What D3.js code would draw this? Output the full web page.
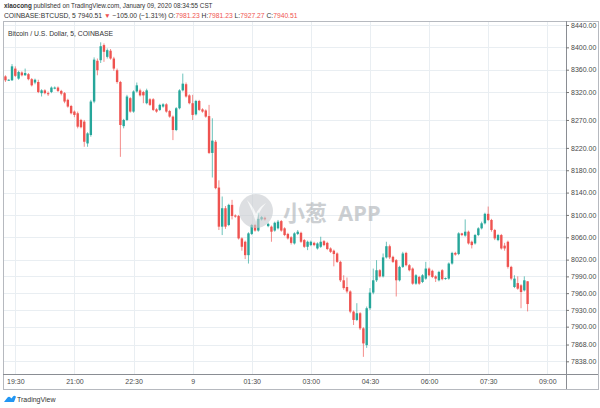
<!DOCTYPE html>
<html><head><meta charset="utf-8">
<script src="https://cdn.jsdelivr.net/npm/d3@7"></script>
<style>body{margin:0;background:#fff}svg{display:block;font-family:"Liberation Sans",Arial,sans-serif}</style>
</head><body><svg id="c" width="600" height="408"></svg>
<script>
// first bar at 19:15 -> minutes relative to 19:30, 5-minute bars
const firstBarMinute = -15;
const barMinutes = 5;
const opens = [8348,8341,8341,8362,8344,8355,8350,8352,8343,8337,8338,8318,8323,8318,8320,8326,8328,8322,8318,8306,
8295,8285,8282,8270,8267,8228,8243,8303,8376,8377,8404,8383,8394,8380,8359,8338,8259,8270,8309,8285,
8321,8323,8320,8300,8307,8307,8289,8288,8294,8298,8286,8276,8252,8291,8323,8334,8314,8300,8280,8304,
8289,8287,8277,8211,8231,8149,8079,8112,8082,8118,8099,8098,8058,8052,8028,8066,8082,8072,8092,8095,
8080,8079,8072,8076,8089,8076,8066,8060,8049,8066,8068,8055,8043,8046,8050,8040,8043,8053,8050,8040,
8036,8031,8016,7983,7971,7963,7927,7912,7924,7897,7867,7933,7961,7983,8001,7990,8024,8044,8025,8019,
7983,8007,8032,8010,8004,7977,7989,7980,7986,8004,8000,7990,7983,8001,7986,7986,8013,8032,8030,8067,
8063,8070,8052,8049,8064,8076,8085,8102,8091,8073,8055,8064,8045,8052,8007,7971,7978,7974,7965,7981.23];
const highs = [8350,8343,8370,8366,8358,8357,8362,8354,8345,8344,8342,8325,8325,8321,8330,8330,8330,8324,8320,8308,
8297,8287,8285,8272,8270,8248,8306,8382,8380,8409,8407,8398,8397,8383,8362,8340,8272,8315,8311,8323,
8337,8326,8322,8326,8309,8309,8291,8299,8300,8300,8288,8278,8293,8325,8353,8337,8316,8315,8306,8306,
8291,8289,8297,8273,8234,8162,8133,8116,8120,8127,8101,8100,8060,8054,8069,8084,8084,8104,8098,8097,
8086,8081,8088,8091,8091,8078,8068,8062,8069,8073,8070,8057,8054,8054,8052,8051,8061,8055,8052,8042,
8038,8033,8018,7992,7988,7965,7929,7942,7926,7899,7936,7969,8004,8019,8003,8031,8052,8047,8027,8021,
8009,8034,8034,8012,8006,7994,7991,7994,8016,8006,8002,7992,8000,8003,7988,8015,8034,8034,8069,8068,
8092,8072,8054,8066,8078,8088,8104,8115,8093,8075,8066,8066,8050,8054,8009,7992,7990,7976,7990,7981.23];
const lows = [8338,8340,8340,8347,8342,8348,8349,8341,8330,8334,8318,8312,8316,8313,8318,8325,8320,8314,8300,8292,
8280,8275,8255,8255,8222,8222,8240,8300,8350,8372,8374,8380,8378,8358,8335,8204,8255,8268,8283,8283,
8319,8312,8300,8298,8295,8286,8283,8286,8292,8283,8274,8234,8250,8289,8321,8310,8298,8270,8278,8286,
8283,8274,8209,8167,8146,8073,8064,8075,8080,8092,8095,8056,8036,8021,8013,8064,8070,8070,8090,8090,
8078,8052,8070,8074,8070,8062,8056,8047,8047,8064,8050,8041,8037,8044,8044,8038,8041,8044,8037,8032,
8008,8014,7980,7966,7960,7924,7903,7910,7894,7846,7862,7930,7958,7980,7988,7988,8022,8021,8014,7954,
7981,8005,8008,7999,7975,7975,7975,7978,7984,7990,7987,7980,7981,7983,7984,7984,8011,8027,8028,8062,
8061,8047,8040,8047,8062,8074,8083,8089,8070,8055,8053,8038,8036,8004,7983,7969,7966,7933,7963,7927.27];
const closes = [8341,8342,8366,8349,8356,8350,8354,8343,8332,8342,8320,8323,8318,8316,8328,8328,8322,8317,8303,8294,
8282,8279,8258,8257,8231,8246,8303,8378,8359,8402,8392,8395,8380,8362,8338,8261,8270,8312,8285,8321,
8332,8314,8314,8323,8297,8288,8285,8297,8298,8285,8276,8252,8291,8323,8335,8312,8300,8279,8304,8288,
8285,8276,8211,8233,8148,8079,8112,8079,8118,8098,8097,8058,8043,8028,8067,8082,8072,8093,8096,8092,
8084,8070,8086,8088,8072,8064,8058,8050,8067,8070,8052,8043,8052,8052,8046,8049,8052,8046,8039,8034,
8030,8016,7983,7969,7963,7927,7912,7924,7897,7870,7933,7961,7983,8001,7990,8024,8044,8024,8016,7983,
8007,8031,8010,8001,7977,7992,7977,7992,8004,7992,7989,7986,7998,7985,7987,8013,8032,8029,8067,8064,
8070,8049,8046,8064,8076,8085,8102,8091,8073,8058,8064,8040,8040,8007,7986,7986,7968,7962,7983,7940.51];
const yTickValues = [8440,8400,8360,8320,8270,8220,8180,8140,8100,8060,8020,7990,7960,7930,7900,7868,7838];
const xTickMinutes = [0,90,180,270,360,450,540,630,720,810];
const xTickLabels = ["19:30","21:00","22:30","9","01:30","03:00","04:30","06:00","07:30","09:00"];

const UP = "#26a69a", DOWN = "#ef5350";
const svg = d3.select("#c");
const L = 3, R = 566, T = 21, B = 374, BB = 389, RR = 598;

const x = d3.scaleLinear().domain([0, 810]).range([15.3, 547.3]);
const y = d3.scaleLinear().domain([7838, 8440]).range([361.3, 25]);

// header: pieces laid out one after another, scaled to the reference width
function headerLine(parts, yPos, targetWidth) {
  const g = svg.append("g");
  let fs = 7;
  const make = () => {
    g.selectAll("*").remove();
    let cx = 4;
    parts.forEach(p => {
      const t = g.append("text").attr("x", cx).attr("y", yPos).attr("font-size", fs)
        .attr("fill", p[1]).attr("font-weight", p[2] ? "bold" : null).attr("xml:space", "preserve")
        .style("white-space", "pre").text(p[0]);
      cx += t.node().getComputedTextLength();
    });
    return cx - 4;
  };
  const w = make();
  fs = 7 * targetWidth / w;
  make();
}
headerLine([["xiaocong", "#333", true], [" published on TradingView.com, January 09, 2020 08:34:55 CST", "#333"]], 8, 209);
headerLine([["COINBASE:BTCUSD, 5 7940.51 ", "#333"], ["▼", DOWN], [" −105.00 (−1.31%) O:", "#333"], ["7981.23", DOWN],
  [" H:", "#333"], ["7981.23", DOWN], [" L:", "#333"], ["7927.27", DOWN], [" C:", "#333"], ["7940.51", DOWN]], 18, 294);

// grid
const grid = svg.append("g").attr("stroke", "#e9eef2").attr("stroke-width", 1);
yTickValues.forEach(v => grid.append("line").attr("x1", L).attr("x2", R)
  .attr("y1", Math.round(y(v)) + 0.5).attr("y2", Math.round(y(v)) + 0.5));
xTickMinutes.forEach(m => grid.append("line").attr("y1", T).attr("y2", B)
  .attr("x1", Math.round(x(m)) + 0.5).attr("x2", Math.round(x(m)) + 0.5));

// title inside pane
svg.append("text").attr("x", 8).attr("y", 36).attr("font-size", 7).attr("fill", "#333")
  .attr("textLength", 105).attr("lengthAdjust", "spacingAndGlyphs").text("Bitcoin / U.S. Dollar, 5, COINBASE");

// candles
const bars = opens.map((o, i) => ({t: firstBarMinute + i * barMinutes, o, h: highs[i], l: lows[i], c: closes[i]}));
const cg = svg.append("g");
bars.forEach(d => {
  const col = d.c >= d.o ? UP : DOWN;
  const cx = x(d.t);
  cg.append("line").attr("x1", cx).attr("x2", cx).attr("y1", y(d.h)).attr("y2", y(d.l))
    .attr("stroke", col).attr("stroke-width", 0.9).attr("stroke-opacity", 0.75);
  const top = y(Math.max(d.o, d.c)), bot = y(Math.min(d.o, d.c));
  cg.append("rect").attr("x", cx - 1.2).attr("width", 2.4).attr("y", top)
    .attr("height", Math.max(1, bot - top)).attr("fill", col);
});

// watermark
const wm = svg.append("g").attr("opacity", 0.62);
wm.append("circle").attr("cx", 256).attr("cy", 211).attr("r", 17).attr("fill", "#c9cdd1");
wm.append("path").attr("d", "M247 200 Q252 210 256 222 Q258 212 266 203 Q258 208 256 214 Q253 206 247 200 Z").attr("fill", "#f2f3f4");
wm.append("text").attr("x", 283).attr("y", 221).attr("font-size", 22).attr("font-weight", "bold")
  .attr("font-family", "'Noto Sans CJK SC',sans-serif").attr("fill", "#aeb3b8").text("小葱");
wm.append("text").attr("x", 338).attr("y", 221).attr("font-size", 22).attr("font-weight", "bold")
  .attr("font-family", "'Noto Sans','Liberation Sans',sans-serif").attr("fill", "#aeb3b8").text("APP");

// frame
const fr = svg.append("g").attr("fill", "none");
fr.append("rect").attr("x", L + 0.5).attr("y", T + 0.5).attr("width", RR - L).attr("height", BB - T).attr("stroke", "#b6b9bf");
fr.append("line").attr("x1", L).attr("x2", RR).attr("y1", B + 0.5).attr("y2", B + 0.5).attr("stroke", "#8a8d93");
fr.append("line").attr("x1", R + 0.5).attr("x2", R + 0.5).attr("y1", T).attr("y2", BB).attr("stroke", "#8a8d93");

// y axis
const ya = svg.append("g").attr("transform", `translate(${R},0)`)
  .call(d3.axisRight(y).tickValues(yTickValues).tickFormat(d3.format(".2f")).tickSize(3).tickPadding(2));
ya.select(".domain").remove();
ya.selectAll("line").attr("stroke", "#777");
ya.selectAll("text").attr("font-size", 7).attr("fill", "#4a4a4a").attr("font-family", "'Liberation Sans',Arial,sans-serif");

// x axis
const xa = svg.append("g").attr("transform", `translate(0,${B})`)
  .call(d3.axisBottom(x).tickValues(xTickMinutes).tickFormat((d, i) => xTickLabels[i]).tickSize(0).tickPadding(5));
xa.select(".domain").remove();
xa.selectAll("text").attr("font-size", 7).attr("fill", "#4a4a4a").attr("font-family", "'Liberation Sans',Arial,sans-serif");

// TradingView logo
const lg = svg.append("g");
lg.append("path").attr("d", "M4 402 L7.5 397.5 Q9 396 10.5 397.5 L11.5 398.5 L13 396.5 Q14.5 395 16 396.8 L14 402 Z").attr("fill", "#2196f3");
lg.append("text").attr("x", 17).attr("y", 401.5).attr("font-size", 7).attr("fill", "#333").text("TradingView");
</script></body></html>
